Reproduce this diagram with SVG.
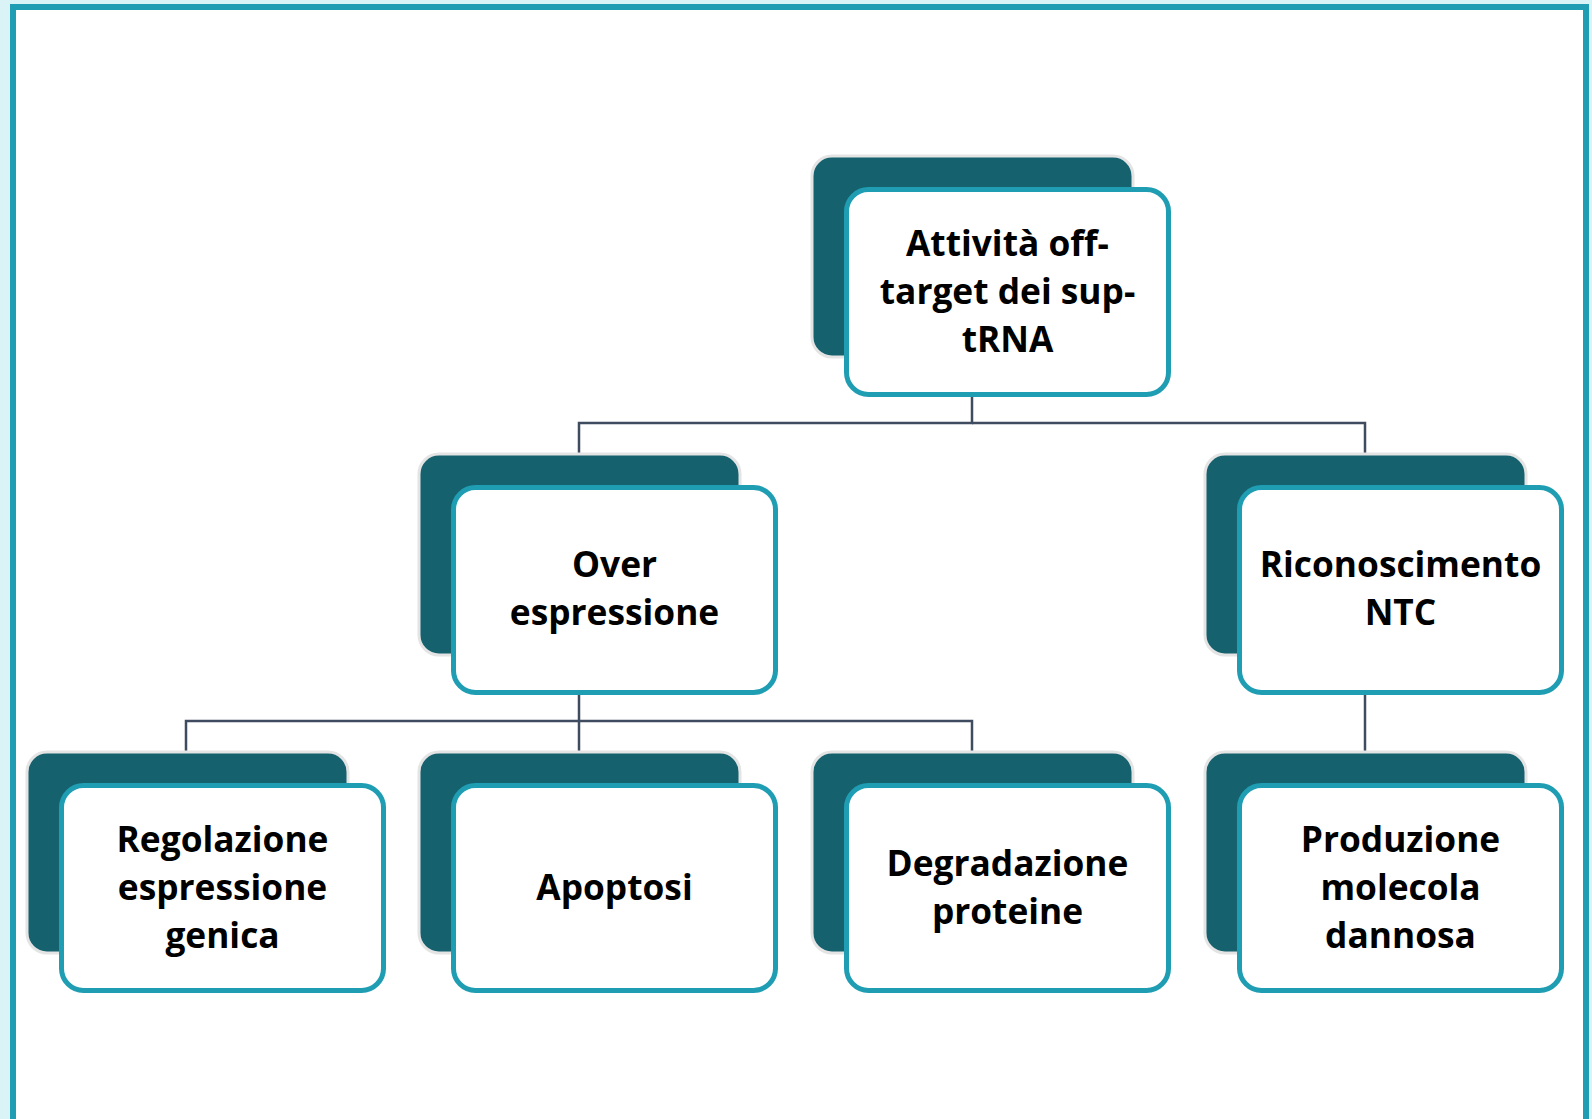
<svg xmlns="http://www.w3.org/2000/svg" width="1592" height="1119" viewBox="0 0 1592 1119">
<style>
.back{fill:#15616e;stroke:#e4e4e4;stroke-width:3}
.front{fill:#ffffff;stroke:#1f9db3;stroke-width:5}
.lbl{font-family:"Open Sans","Noto Sans","DejaVu Sans",sans-serif;font-weight:700;font-size:35.3px;fill:#000000;text-anchor:middle}
.conn{fill:none;stroke:#3f4b5e;stroke-width:2.5}
</style>
<rect x="0" y="0" width="1592" height="1119" fill="#d9f3f6"/>
<rect x="13" y="7" width="1573" height="1200" fill="#ffffff" stroke="#1f9eb3" stroke-width="6"/>
<g id="connectors">
<path class="conn" d="M972,396 V423 H579 V454"/>
<path class="conn" d="M972,423 H1365 V454"/>
<path class="conn" d="M579,689 V721 H186 V752"/>
<path class="conn" d="M579,721 V752"/>
<path class="conn" d="M579,721 H972 V752"/>
<path class="conn" d="M1365,691 V752"/>
</g>
<g id="node-root">
<rect class="back" x="812" y="156" width="321" height="201" rx="20"/>
<rect class="front" x="846.5" y="189.5" width="322" height="205" rx="22"/>
<text class="lbl"><tspan x="1007.5" y="256">Attività off-</tspan><tspan x="1007.5" y="304">target dei sup-</tspan><tspan x="1007.5" y="352">tRNA</tspan></text>
</g>
<g id="node-over">
<rect class="back" x="419" y="454" width="321" height="201" rx="20"/>
<rect class="front" x="453.5" y="487.5" width="322" height="205" rx="22"/>
<text class="lbl"><tspan x="614.5" y="577">Over</tspan><tspan x="614.5" y="625">espressione</tspan></text>
</g>
<g id="node-ntc">
<rect class="back" x="1205" y="454" width="321" height="201" rx="20"/>
<rect class="front" x="1239.5" y="487.5" width="322" height="205" rx="22"/>
<text class="lbl"><tspan x="1400.5" y="577">Riconoscimento</tspan><tspan x="1400.5" y="625">NTC</tspan></text>
</g>
<g id="node-regolazione">
<rect class="back" x="27" y="752" width="321" height="201" rx="20"/>
<rect class="front" x="61.5" y="785.5" width="322" height="205" rx="22"/>
<text class="lbl"><tspan x="222.5" y="852">Regolazione</tspan><tspan x="222.5" y="900">espressione</tspan><tspan x="222.5" y="948">genica</tspan></text>
</g>
<g id="node-apoptosi">
<rect class="back" x="419" y="752" width="321" height="201" rx="20"/>
<rect class="front" x="453.5" y="785.5" width="322" height="205" rx="22"/>
<text class="lbl"><tspan x="614.5" y="900">Apoptosi</tspan></text>
</g>
<g id="node-degradazione">
<rect class="back" x="812" y="752" width="321" height="201" rx="20"/>
<rect class="front" x="846.5" y="785.5" width="322" height="205" rx="22"/>
<text class="lbl"><tspan x="1007.5" y="876">Degradazione</tspan><tspan x="1007.5" y="924">proteine</tspan></text>
</g>
<g id="node-produzione">
<rect class="back" x="1205" y="752" width="321" height="201" rx="20"/>
<rect class="front" x="1239.5" y="785.5" width="322" height="205" rx="22"/>
<text class="lbl"><tspan x="1400.5" y="852">Produzione</tspan><tspan x="1400.5" y="900">molecola</tspan><tspan x="1400.5" y="948">dannosa</tspan></text>
</g>
</svg>
